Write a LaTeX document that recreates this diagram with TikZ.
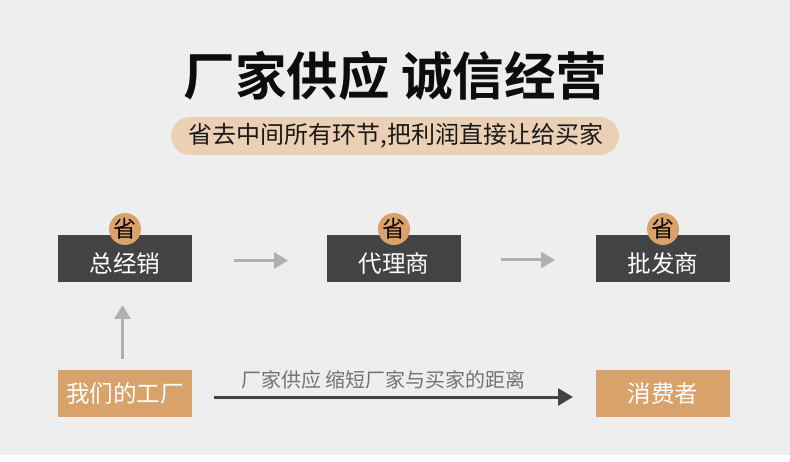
\documentclass[tikz,border=0pt]{standalone}
\usepackage{fontspec}
\newfontfamily\cjk{Noto Sans CJK SC}
\newfontfamily\cjkbold{Noto Sans CJK SC Bold}
\usetikzlibrary{arrows.meta,positioning,calc}
\definecolor{pagebg}{HTML}{EEEEEE}
\definecolor{darkbox}{HTML}{434343}
\definecolor{tanbox}{HTML}{D8A26A}
\definecolor{pillbg}{HTML}{EBD0B5}
\definecolor{grayarr}{HTML}{B0B0B0}
\definecolor{darkarr}{HTML}{434343}
\begin{document}
\begin{tikzpicture}[x=1pt,y=-1pt,
    chain/.style={fill=darkbox, text=white, minimum width=134pt, minimum height=47pt, inner sep=0pt, font=\cjk\fontsize{23.6}{24}\selectfont},
    direct/.style={fill=tanbox, text=white, minimum width=134pt, minimum height=47pt, inner sep=0pt, font=\cjk\fontsize{23.6}{24}\selectfont},
    badge/.style={circle, fill=tanbox, text=black, minimum size=32pt, inner sep=0pt, font=\cjk\fontsize{23}{23}\selectfont},
    grayarrow/.style={-{Triangle[length=14pt,width=16pt]}, line width=3pt, draw=grayarr},
    darkarrow/.style={-{Triangle[length=15pt,width=17pt]}, line width=3pt, draw=darkarr}
]
\useasboundingbox (0,0) rectangle (790,462);
\fill[white] (0,0) rectangle (790,462);
\fill[pagebg] (0,0) rectangle (790,455);
\node[font=\cjkbold\fontsize{51.5}{52}\selectfont, text=black!95] (title) at (395.5,76) {厂家供应 诚信经营};
\node[fill=pillbg, rounded corners=19pt, minimum width=448pt, minimum height=38pt, inner sep=0pt, font=\cjk\fontsize{24}{24}\selectfont, text=black!90] (sub) at (395,136) {\hspace{2pt}省去中间所有环节,把利润直接让给买家};

\node[chain] (gen) at (125,258.5) {\raisebox{-14pt}[0pt][0pt]{总经销}};
\node[chain] (agent) at (394,258.5) {\raisebox{-14pt}[0pt][0pt]{代理商}};
\node[chain] (whole) at (663,258.5) {\raisebox{-14pt}[0pt][0pt]{批发商}};
\node[direct] (fact) at (125,393.5) {我们的工厂};
\node[direct] (buyer) at (663,393.5) {消费者};
\node[badge] (save1) at (125,229) {\raisebox{-8.5pt}[0pt][0pt]{省}};
\node[badge] (save2) at (394,229) {\raisebox{-8.5pt}[0pt][0pt]{省}};
\node[badge] (save3) at (663,229) {\raisebox{-8.5pt}[0pt][0pt]{省}};

\coordinate (a1) at (234,260.5);
\coordinate (a2) at (288,260.5);
\coordinate (b1) at (501,260);
\coordinate (b2) at (555,260);
\coordinate (c1) at (122.5,359);
\coordinate (c2) at (122.5,305);
\coordinate (d1) at (214,397);
\coordinate (d2) at (573,397);
\draw[grayarrow] (a1) -- (a2);
\draw[grayarrow] (b1) -- (b2);
\draw[grayarrow] (c1) -- (c2);
\draw[darkarrow] (d1) -- node[above=3pt, font=\cjk\fontsize{20}{20}\selectfont, text=black!55, xshift=-10pt] {厂家供应 缩短厂家与买家的距离} (d2);
\end{tikzpicture}
\end{document}
